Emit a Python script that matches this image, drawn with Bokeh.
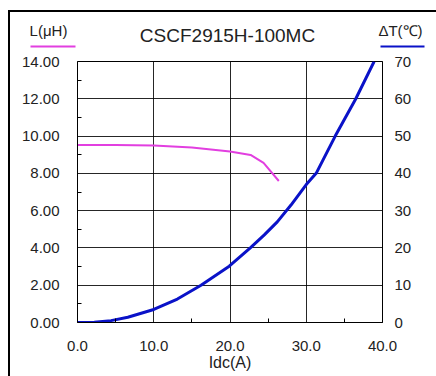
from bokeh.plotting import figure
from bokeh.layouts import column, row
from bokeh.models import Range1d, LinearAxis, FixedTicker, NumeralTickFormatter
from bokeh.core.properties import value
from bokeh.embed import file_html
from bokeh.resources import INLINE

title = "CSCF2915H-100MC"
x_label = "Idc(A)"
left_label = "L(μH)"
right_label = "ΔT(℃)"

idc_L = [0, 5, 10, 15, 20, 22.7, 24.4, 26.4]
L_uH = [9.52, 9.52, 9.49, 9.39, 9.17, 8.99, 8.56, 7.59]

idc_T = [0, 2.2, 4.4, 6.6, 10, 13.1, 16.2, 19.9, 22.7, 24.5, 26.2, 28.0, 30.0, 31.3, 33.8, 36.5, 38.9]
dT = [0, 0.1, 0.5, 1.4, 3.5, 6.3, 10, 15.1, 20.1, 23.5, 27, 31.5, 37.0, 40, 50, 60, 70]

x_ticks = [0, 10, 20, 30, 40]
left_ticks = [0, 2, 4, 6, 8, 10, 12, 14]
right_ticks = [0, 10, 20, 30, 40, 50, 60, 70]

FONT = "Liberation Sans"
MAG = "#E23FE0"
BLU = "#0A12C8"
OX, OY = 10, 12          # content origin in page pixels (after margin + border)
W = 436 - OX
HEAD_H = 50 - OY
MAIN_H = 376 - 50
FL, FT, FR, FB = 77, 61, 382, 322   # frame edges in page pixels

# ---- header strip: title, series labels and their colour keys
hdr = figure(width=W, height=HEAD_H, output_backend="svg", toolbar_location=None,
             x_range=Range1d(0, W), y_range=Range1d(HEAD_H, 0),
             x_axis_type=None, y_axis_type=None, min_border=0)
hdr.grid.visible = False
hdr.outline_line_color = None
hdr.background_fill_color = "white"
hdr.border_fill_color = "white"
hdr.text(x=[227 - OX], y=[35 - OY], text=[title], text_font=value(FONT), text_font_size="19px",
         text_align="center", text_baseline="middle", text_color="#222222")
hdr.text(x=[48 - OX, 400 - OX], y=[30 - OY, 30 - OY], text=[left_label, right_label],
         text_font=value(FONT), text_font_size="15px",
         text_align="center", text_baseline="middle", text_color="#222222")
hdr.segment(x0=[30 - OX], y0=[46 - OY], x1=[75 - OX], y1=[46 - OY], line_color=MAG, line_width=2)
hdr.segment(x0=[380 - OX], y0=[46 - OY], x1=[424 - OX], y1=[46 - OY], line_color=BLU, line_width=2)

# ---- main chart
p = figure(width=W, height=MAIN_H, output_backend="svg", toolbar_location=None,
           x_range=Range1d(0, 40), y_range=Range1d(0, 14),
           min_border_left=FL - OX, min_border_right=W - (FR - OX),
           min_border_top=FT - 50, min_border_bottom=376 - FB)
p.extra_y_ranges = {"t": Range1d(0, 70)}
p.outline_line_color = "black"
p.outline_line_width = 1
p.background_fill_color = "white"
p.border_fill_color = "white"

p.line(idc_L, L_uH, line_color=MAG, line_width=2, line_join="round")
p.line(idc_T, dT, line_color=BLU, line_width=3, y_range_name="t", line_join="round")

xa = p.xaxis[0]
xa.ticker = FixedTicker(ticks=x_ticks, minor_ticks=[5, 15, 25, 35])
xa.formatter = NumeralTickFormatter(format="0.0")
xa.axis_label = x_label
ya = p.yaxis[0]
ya.ticker = FixedTicker(ticks=left_ticks, minor_ticks=[1, 3, 5, 7, 9, 11, 13])
ya.formatter = NumeralTickFormatter(format="0.00")
ra = LinearAxis(y_range_name="t", ticker=FixedTicker(ticks=right_ticks))
p.add_layout(ra, "right")

for ax in (xa, ya, ra):
    ax.axis_line_color = "black"
    ax.major_tick_in = 0
    ax.major_tick_out = 0
    ax.minor_tick_in = 4
    ax.minor_tick_out = 0
    ax.minor_tick_line_color = "black"
    ax.major_label_text_font = FONT
    ax.major_label_text_font_size = "15px"
    ax.major_label_text_color = "#222222"
    ax.axis_label_text_font = FONT
    ax.axis_label_text_font_size = "16px"
    ax.axis_label_text_font_style = "normal"
    ax.axis_label_text_color = "#222222"
ra.minor_tick_in = 0
ya.major_label_standoff = 18
ra.major_label_standoff = 12
xa.major_label_standoff = 18
xa.axis_label_standoff = 0

p.xgrid.ticker = FixedTicker(ticks=x_ticks)
p.ygrid.ticker = FixedTicker(ticks=left_ticks)
for g in (p.xgrid[0], p.ygrid[0]):
    g.grid_line_color = "black"
    g.grid_line_width = 1
    g.grid_line_alpha = 0.85

layout = column(row(hdr, spacing=0), p, spacing=0, margin=(10, 0, 0, 8),
                styles={"border-left": "2px solid black", "border-top": "2px solid black"})

open("out.html", "w").write(file_html(layout, INLINE))
